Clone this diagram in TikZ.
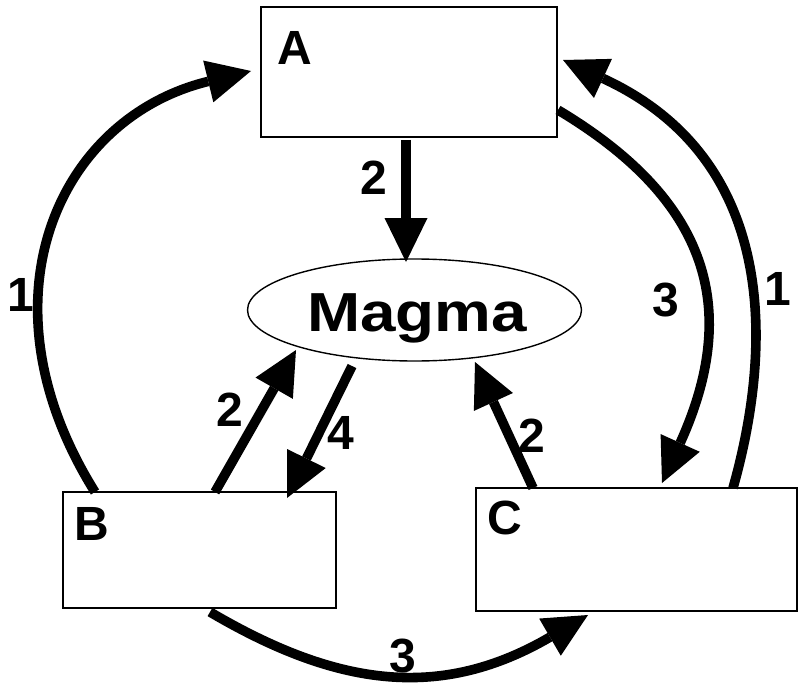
\documentclass[tikz,border=0pt]{standalone}
\usepackage{fontspec}
\setmainfont{Liberation Sans}
\usetikzlibrary{arrows.meta,shapes.geometric,calc}
\begin{document}
\begin{tikzpicture}[x=1pt,y=-1pt,
  box/.style={draw,line width=2pt,rectangle,inner sep=0pt,outer sep=0pt},
  lbl/.style={inner sep=0pt,outer sep=0pt,font=\fontsize{48}{48}\selectfont\bfseries},
  flow/.style={line width=9.6pt,line cap=butt,-{Triangle[length=44pt,width=43pt,line width=0pt]}},
]
\useasboundingbox (0,0) rectangle (806,690);
% boxes
\node[box,minimum width=296pt,minimum height=130pt] (A) at (409,72) {};
\node[box,minimum width=273pt,minimum height=116pt] (B) at (199.5,550) {};
\node[box,minimum width=321pt,minimum height=123pt] (C) at (636.5,549.5) {};
\node[draw,ellipse,line width=1.4pt,inner sep=0pt,outer sep=0pt,minimum width=334pt,minimum height=102pt] (M) at (414.5,310) {};
% texts
\node[lbl] (tA) at (295,47.5) {A};
\node[lbl] (tB) at (92,524) {B};
\node[lbl] (tC) at (505,517.5) {C};
\node[inner sep=0pt,outer sep=0pt,anchor=base,font=\fontsize{55}{55}\selectfont\bfseries] (tM) at (417,331) {\scalebox{1.16}[1]{Magma}};
\node[lbl] (n1) at (374,178) {2};
\node[lbl] (n2) at (21,295) {1};
\node[lbl] (n3) at (666,300) {3};
\node[lbl] (n4) at (778,289) {1};
\node[lbl] (n5) at (230,409.5) {2};
\node[lbl] (n6) at (340.5,432.5) {4};
\node[lbl] (n7) at (532,436) {2};
\node[lbl] (n8) at (403,656) {3};
% connectors
\draw[flow] ($(B.north west)+(32,0)$) .. controls (-25,300) and (58,118) .. ($(A.west)+(-10,-1)$);
\draw[flow] ($(A.south)+(-3,3)$) -- ($(M.north)+(-8.5,3)$);
\draw[flow] ($(A.east)+(1,38)$) .. controls (700,195) and (745,300) .. ($(C.north west)+(186,-5)$);
\draw[flow] ($(C.north west)+(257,0)$) .. controls (772,350) and (780,160) .. ($(A.east)+(6,-12)$);
\draw[flow] ($(B.north west)+(152,0)$) -- ($(M.center)+(-118.5,40)$);
\draw[flow] ($(M.center)+(-62.5,56)$) -- ($(B.north west)+(224,6)$);
\draw[flow] ($(C.north west)+(57,0)$) -- ($(M.center)+(60.5,52)$);
\draw[flow] ($(B.south west)+(147,4)$) .. controls (339,688) and (442,700) .. ($(C.south west)+(112,4)$);
\end{tikzpicture}
\end{document}
